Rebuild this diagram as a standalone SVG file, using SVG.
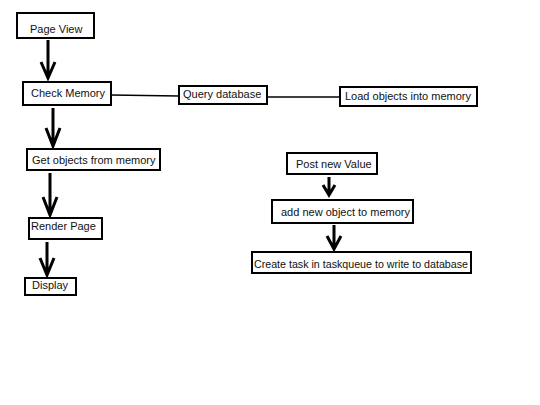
<svg xmlns="http://www.w3.org/2000/svg" width="540" height="405" viewBox="0 0 540 405">
<style>
.box{fill:#fff;stroke:#000;stroke-width:2}
.t{font-family:"Liberation Sans",Arial,sans-serif;font-size:11px;fill:#111}
.arr{fill:none;stroke:#000;stroke-width:3;stroke-linejoin:miter}
.ln{fill:none;stroke:#000;stroke-width:1.5}
</style>
<rect width="540" height="405" fill="#fff"/>
<g id="connectors">
<path class="arr" d="M48 40V78M41 62L48 78L55 62"/>
<path class="arr" d="M53 108V146M46 128L53 146L60 128"/>
<path class="arr" d="M50 173V215M43 197L50 215L57 197"/>
<path class="arr" d="M47 242V275M40 258L47 275L54 258"/>
<path class="arr" d="M329 177V195M323 185L329 195L335 185"/>
<path class="arr" d="M334 225V249M327 236L334 249L341 236"/>
<path class="ln" d="M111 95L179 96"/>
<path class="ln" d="M267 97H340"/>
</g>
<g id="page-view"><rect class="box" x="17" y="13" width="77" height="25"/><text class="t" x="30" y="33">Page View</text></g>
<g id="check-memory"><rect class="box" x="23" y="82" width="88" height="23"/><text class="t" x="31" y="97">Check Memory</text></g>
<g id="query-database"><rect class="box" x="179" y="86" width="88" height="18"/><text class="t" x="183" y="98">Query database</text></g>
<g id="load-objects"><rect class="box" x="340" y="87" width="137" height="19"/><text class="t" x="345" y="100">Load objects into  memory</text></g>
<g id="get-objects"><rect class="box" x="27" y="149" width="133" height="21"/><text class="t" x="32" y="164">Get objects from memory</text></g>
<g id="render-page"><rect class="box" x="29" y="218" width="73" height="21"/><text class="t" x="31" y="230">Render Page</text></g>
<g id="display"><rect class="box" x="25" y="278" width="51" height="17"/><text class="t" x="32" y="289">Display</text></g>
<g id="post-new-value"><rect class="box" x="287" y="153" width="90" height="21"/><text class="t" x="296" y="168">Post new Value</text></g>
<g id="add-new-object"><rect class="box" x="272" y="200" width="141" height="23"/><text class="t" x="281" y="216">add new object to memory</text></g>
<g id="create-task"><rect class="box" x="252" y="252" width="219" height="21"/><text class="t" x="254" y="268" textLength="214" lengthAdjust="spacingAndGlyphs">Create task in taskqueue to write to database</text></g>
</svg>
